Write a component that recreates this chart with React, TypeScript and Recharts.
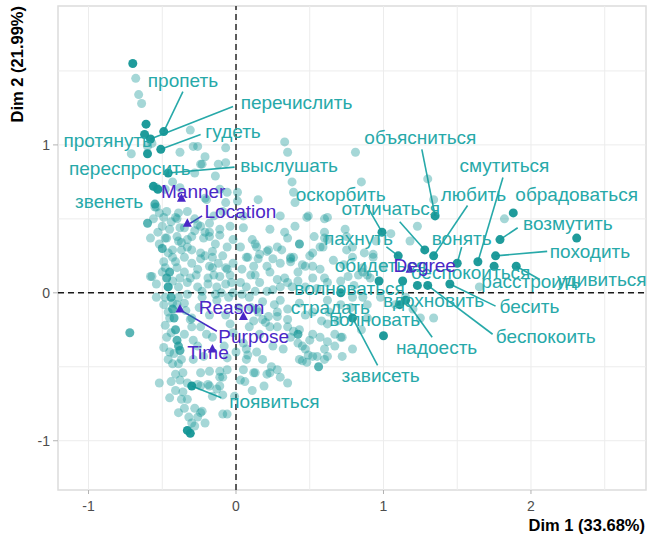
import {
  ScatterChart,
  Scatter,
  XAxis,
  YAxis,
  ReferenceLine,
  ReferenceArea,
} from "recharts";

// axis ranges and ticks
const X_RANGE: [number, number] = [-1.207, 2.78];
const Y_RANGE: [number, number] = [-1.333, 1.939];
const X_TICKS = [-1, 0, 1, 2];
const Y_TICKS = [-1, 0, 1];
const X_MINOR = [-0.5, 0.5, 1.5, 2.5];
const Y_MINOR = [-0.5, 0.5, 1.5];

const TEAL = "#139696";
const TEAL_TEXT = "#27a9a9";
const PURPLE = "#4a27c6";

// individuals with low contribution
const lightPoints: [number, number][] = [
  [-0.68, 1.45], [-0.66, 1.34], [-0.64, 1.28], [-0.71, 0.94], [-0.6, 0.99], [-0.57, 1.01],
  [-0.38, 0.95], [-0.29, 0.99], [-0.26, 0.99], [-0.31, 1.1], [-0.24, 0.87], [-0.12, 0.87],
  [0.33, 1.02], [0.35, 0.95], [0.38, 0.75], [0.39, 0.68], [-0.38, 0.71], [-0.43, 0.75],
  [-0.2, 0.63], [-0.06, 0.68], [0.01, 0.68], [-0.11, 0.7], [-0.55, 0.58], [-0.52, 0.54],
  [-0.56, 0.5], [-0.49, 0.51], [-0.41, 0.51], [-0.38, 0.44], [-0.24, 0.45], [-0.18, 0.41],
  [-0.11, 0.43], [-0.04, 0.45], [-0.58, 0.37], [-0.47, 0.37], [-0.37, 0.34], [-0.22, 0.37],
  [-0.43, 0.29], [-0.33, 0.31], [-0.24, 0.27], [-0.16, 0.28], [-0.06, 0.31], [0.03, 0.31],
  [0.07, 0.24], [0.14, 0.31], [0.21, 0.28], [0.28, 0.31], [0.37, 0.24], [0.5, 0.25],
  [0.57, 0.31], [0.6, 0.37], [0.62, 0.51], [0.49, 0.52], [-0.21, 0.92], [-0.07, 0.98],
  [-0.54, 0.71], [-0.48, 0.7], [-0.23, 0.87], [-0.07, 0.88], [-0.28, 0.81], [-0.14, 0.79],
  [-0.21, 0.64], [-0.07, 0.61], [0.01, 0.62], [-0.54, 0.58], [-0.39, 0.54], [-0.5, 0.45],
  [-0.4, 0.5], [-0.45, 0.43], [-0.35, 0.44], [-0.26, 0.46], [-0.18, 0.47], [-0.53, 0.41],
  [-0.4, 0.38], [-0.3, 0.38], [-0.21, 0.41], [-0.11, 0.39], [-0.48, 0.37], [-0.39, 0.35],
  [-0.33, 0.36], [-0.18, 0.38], [-0.37, 0.29], [-0.3, 0.29], [-0.43, 0.24], [-0.35, 0.24],
  [-0.24, 0.23], [-0.16, 0.24], [-0.09, 0.25], [-0.49, 0.21], [-0.48, 0.17], [-0.4, 0.17],
  [-0.26, 0.16], [-0.16, 0.17], [-0.07, 0.17], [-0.58, 0.11], [-0.38, 0.1], [-0.31, 0.1],
  [-0.19, 0.1], [-0.11, 0.11], [-0.04, 0.12], [-0.54, 0.06], [-0.46, 0.04], [-0.39, 0.04],
  [-0.26, 0.04], [-0.19, 0.06], [-0.13, 0.04], [-0.07, 0.06], [-0.03, 0.07], [-0.48, -0.03],
  [-0.39, -0.03], [-0.33, -0.01], [-0.23, -0.03], [-0.14, -0.01], [-0.05, -0.03], [0.04, -0.01],
  [0.09, -0.03], [-0.43, -0.07], [-0.35, -0.07], [-0.45, -0.17], [-0.3, -0.17], [-0.07, -0.15],
  [-0.04, -0.21], [-0.3, -0.23], [-0.57, 0.11], [-0.54, -0.03], [-0.37, -0.45], [-0.36, -0.54],
  [-0.33, -0.61], [-0.49, -0.37], [-0.43, -0.48], [-0.52, -0.61], [-0.45, -0.71], [-0.33, -0.72],
  [-0.39, -0.81], [-0.26, -0.84], [-0.23, -0.8], [-0.21, -0.88], [-0.28, -0.9], [-0.24, -0.63],
  [-0.18, -0.63], [-0.13, -0.65], [-0.16, -0.7], [-0.11, -0.57], [-0.06, -0.52], [-0.24, -0.54],
  [-0.29, -0.45], [-0.22, -0.43], [-0.29, -0.32], [-0.16, -0.3], [-0.02, -0.27], [0.05, -0.34],
  [0.07, -0.45], [0.12, -0.54], [0.03, -0.59], [-0.06, -0.82], [0.23, -0.54], [0.28, -0.52],
  [0.35, -0.61], [0.18, -0.45], [0.25, -0.36], [0.32, -0.38], [0.37, -0.3], [0.39, -0.26],
  [0.43, -0.25], [0.45, -0.36], [0.5, -0.32], [0.57, -0.3], [0.52, -0.43], [0.43, -0.45],
  [0.09, -0.23], [0.18, -0.18], [0.23, -0.23], [0.28, -0.16], [0.14, -0.11], [-0.24, -0.23],
  [-0.31, -0.18], [-0.13, -0.05], [-0.02, 0.0], [0.07, 0.04], [0.16, 0.07], [0.28, 0.09],
  [0.35, 0.07], [0.12, 0.18], [0.21, 0.18], [0.3, 0.2], [-0.18, 0.18], [-0.06, 0.16],
  [-0.45, -0.4], [-0.39, -0.48], [-0.38, -0.59], [-0.36, -0.67], [-0.24, -0.81], [-0.3, -0.88],
  [-0.18, -0.53], [-0.11, -0.53], [-0.09, -0.57], [-0.26, -0.62], [-0.19, -0.62], [-0.11, -0.63],
  [-0.09, -0.69], [-0.09, -0.82], [0.05, -0.52], [0.06, -0.6], [0.13, -0.54], [0.21, -0.55],
  [0.3, -0.57], [0.24, -0.5], [0.07, -0.38], [0.14, -0.4], [0.47, -0.38], [0.48, -0.47],
  [0.55, -0.43], [0.62, -0.43], [0.45, -0.46], [0.15, 0.23], [0.25, 0.23], [0.37, 0.23],
  [0.23, 0.14], [0.13, 0.12], [0.33, 0.1], [0.47, 0.18], [0.52, 0.18], [0.42, 0.08],
  [0.52, 0.1], [0.6, 0.1], [0.71, 0.08], [0.76, 0.11], [0.83, 0.12], [0.89, 0.12],
  [0.3, 0.04], [0.38, 0.04], [0.13, 0.01], [0.21, 0.01], [0.47, 0.04], [0.18, -0.06],
  [0.26, -0.08], [0.15, -0.13], [0.22, -0.16], [0.28, -0.13], [0.35, -0.11], [0.12, -0.19],
  [0.2, -0.2], [0.28, -0.23], [0.35, -0.23], [0.35, -0.18], [0.58, -0.19], [0.52, -0.28],
  [0.42, -0.34], [0.67, -0.28], [0.72, -0.3], [0.6, -0.38], [0.67, -0.36], [0.49, -0.42],
  [0.08, -0.42], [0.72, -0.43], [0.81, 0.95], [0.85, 0.75], [0.4, 0.61], [0.15, 0.63],
  [0.48, 0.51], [0.6, 0.5], [0.23, 0.43], [0.11, 0.36], [0.13, 0.33], [0.35, 0.37],
  [0.6, 0.41], [0.74, 0.43], [0.75, 0.38], [0.22, 0.29], [0.31, 0.29], [0.52, 0.27],
  [0.59, 0.31], [0.87, 0.27], [0.93, 0.26], [0.08, 0.24], [0.16, 0.26], [0.39, 0.24],
  [0.3, 0.52], [0.33, 0.41], [0.37, 0.21], [0.45, 0.19], [0.57, 0.16], [0.73, 0.19],
  [0.79, 0.24], [0.62, 0.36], [0.75, 0.29], [0.86, 0.17], [0.43, -0.07], [0.52, -0.13],
  [0.62, -0.05], [0.71, -0.08], [0.79, -0.03], [0.86, -0.03], [0.98, -0.03], [1.08, -0.08],
  [1.2, -0.11], [1.25, -0.17], [0.62, -0.33], [0.71, -0.3], [1.34, -0.17], [1.3, 0.77],
  [1.34, 0.63], [0.79, 0.31], [0.93, 0.24], [1.23, 0.45], [1.82, 0.5], [0.62, 0.07],
  [0.86, 0.14], [0.91, 0.1], [1.65, 0.04], [0.69, -0.19], [0.62, -0.21], [0.79, -0.38],
  [0.6, -0.45], [0.89, -0.08], [0.89, -0.17], [1.15, -0.03],
  [-0.47, 0.55], [-0.44, 0.48], [-0.52, 0.33], [-0.46, 0.27], [-0.41, 0.21], [-0.5, 0.14],
  [-0.43, 0.08], [-0.49, -0.08], [-0.46, -0.13], [-0.4, -0.08], [-0.48, -0.22], [-0.44, -0.27],
  [-0.47, -0.3], [-0.42, -0.41], [-0.46, -0.45], [-0.41, -0.55], [-0.44, -0.6], [-0.37, -0.72],
  [-0.41, -0.66], [-0.35, -0.78], [-0.32, -0.84], [-0.28, -0.78], [-0.33, 0.55], [-0.28, 0.5],
  [-0.15, 0.52], [-0.3, 0.2], [-0.21, 0.25], [-0.12, 0.2], [-0.02, 0.2], [-0.27, 0.12],
  [-0.15, 0.12], [-0.33, 0.07], [-0.23, 0.01], [-0.1, 0.0], [-0.35, 0.14], [-0.02, 0.36],
  [-0.14, 0.33], [-0.28, 0.42], [-0.09, 0.55], [0.05, 0.44], [0.05, 0.52], [0.1, 0.12],
  [0.04, 0.16], [0.03, 0.07], [-0.34, -0.12], [-0.25, -0.1], [-0.18, -0.15], [-0.2, -0.28],
  [-0.35, -0.28], [-0.26, -0.36], [-0.08, -0.36], [0.0, -0.4], [-0.06, -0.44], [0.16, -0.28],
  [0.1, -0.1], [0.02, -0.1], [0.19, -0.63], [0.11, -0.66], [-0.01, -0.7], [0.53, 0.38],
  [0.66, 0.22], [0.4, 0.45], [0.55, 0.03], [0.47, -0.15], [0.63, -0.13], [0.8, 0.05],
  [0.95, 0.35], [1.05, 0.4], [1.0, 0.18], [1.18, 0.35], [0.42, 0.14], [0.25, 0.02],
  [0.3, -0.05], [0.78, -0.1], [0.85, -0.25],
];

// individuals with medium contribution
const midPoints: [number, number][] = [
  [-0.6, 0.47], [-0.5, 0.3], [-0.47, 0.1], [-0.43, -0.11], [-0.41, -0.25], [-0.4, -0.32],
  [-0.38, -0.39], [0.43, 0.33], [0.56, -0.5], [0.42, -0.28], [-0.72, -0.27], [-0.46, 0.04],
  [-0.44, -0.03], [-0.42, -0.17], [-0.39, -0.36], [-0.45, 0.14], [-0.55, 0.6],
];

// individuals with high contribution
const darkPoints: [number, number][] = [
  [-0.7, 1.55], [-0.49, 1.09], [-0.61, 1.14], [-0.62, 1.07], [-0.58, 1.04], [-0.6, 0.94],
  [-0.51, 0.97], [-0.46, 0.81], [-0.56, 0.72], [-0.53, 0.7], [1.35, 0.52], [1.64, 0.21],
  [1.34, 0.25], [1.79, 0.36], [1.76, 0.25], [0.99, 0.41], [1.28, 0.29], [1.1, 0.25],
  [1.5, 0.2], [1.45, 0.06], [1.3, 0.05], [1.15, -0.05], [0.79, -0.17], [-0.3, -0.63],
  [1.9, 0.18], [1.88, 0.54], [2.31, 0.37], [1.75, 0.18], [1.23, 0.05], [1.13, 0.08],
  [0.97, 0.08], [0.71, 0.0], [1.11, -0.08], [1.0, -0.29], [-0.31, -0.95], [-0.33, -0.93],
];

// verb labels: name, label x, label y
const verbLabels: [string, number, number][] = [
  ["пропеть", -0.36, 1.43],
  ["перечислить", 0.41, 1.28],
  ["гудеть", -0.02, 1.08],
  ["выслушать", 0.36, 0.85],
  ["объясниться", 1.25, 1.04],
  ["смутиться", 1.82, 0.85],
  ["любить", 1.61, 0.66],
  ["возмутить", 2.25, 0.46],
  ["походить", 2.4, 0.27],
  ["оскорбить", 0.71, 0.66],
  ["отличаться", 1.05, 0.56],
  ["пахнуть", 0.83, 0.36],
  ["вонять", 1.53, 0.36],
  ["бесить", 1.99, -0.1],
  ["беспокоить", 2.1, -0.3],
  ["надоесть", 1.36, -0.38],
  ["зависеть", 0.98, -0.57],
  ["появиться", 0.26, -0.74],
  ["удивиться", 2.48, 0.08],
  ["протянуть", -0.87, 1.02],
  ["переспросить", -0.72, 0.83],
  ["звенеть", -0.86, 0.61],
  ["обрадоваться", 2.31, 0.66],
  ["обидеться", 0.98, 0.18],
  ["беспокоиться", 1.59, 0.13],
  ["расстроить", 2.0, 0.07],
  ["волноваться", 0.77, 0.02],
  ["страдать", 0.64, -0.11],
  ["волновать", 0.94, -0.19],
  ["вдохновить", 1.34, -0.06],
];

// leader segments: from label edge to its point
const verbLinks: [number, number, number, number][] = [
  [-0.36, 1.36, -0.49, 1.09],
  [-0.02, 1.26, -0.58, 1.04],
  [-0.24, 1.07, -0.51, 0.97],
  [-0.01, 0.85, -0.46, 0.81],
  [1.26, 0.97, 1.35, 0.52],
  [1.81, 0.78, 1.64, 0.21],
  [1.57, 0.59, 1.34, 0.25],
  [1.91, 0.44, 1.79, 0.36],
  [2.11, 0.28, 1.76, 0.25],
  [0.88, 0.6, 0.99, 0.41],
  [1.11, 0.48, 1.28, 0.29],
  [1.02, 0.31, 1.1, 0.25],
  [1.53, 0.31, 1.5, 0.2],
  [1.76, -0.09, 1.45, 0.06],
  [1.74, -0.28, 1.3, 0.05],
  [1.33, -0.3, 1.15, -0.05],
  [0.96, -0.49, 0.79, -0.17],
  [-0.1, -0.71, -0.3, -0.63],
  [2.06, 0.09, 1.9, 0.18],
];

// supplementary categories: name, point x, point y, label x, label y
const supCategories: [string, number, number, number, number][] = [
  ["Manner", -0.37, 0.64, -0.29, 0.68],
  ["Location", -0.33, 0.47, 0.03, 0.54],
  ["Reason", 0.05, -0.16, -0.03, -0.11],
  ["Purpose", -0.38, -0.11, 0.12, -0.3],
  ["Time", -0.16, -0.38, -0.19, -0.41],
  ["Degree", 1.18, 0.16, 1.28, 0.18],
];

const supLinks: [number, number, number, number][] = [
  [-0.23, 0.52, -0.31, 0.47],
  [-0.13, -0.26, -0.37, -0.12],
];

const toXY = (rows: [number, number][]) => rows.map(([x, y]) => ({ x, y }));

function dot(opacity: number) {
  return (p: any) => (
    <circle cx={p.cx} cy={p.cy} r={4.5} fill={TEAL} fillOpacity={opacity} />
  );
}

function word(color: string) {
  return (p: any) => (
    <text x={p.cx} y={p.cy} dy="0.28em" textAnchor="middle" fontSize={19} fill={color}>
      {p.payload.name}
    </text>
  );
}

const triangle = (p: any) => (
  <path
    d={`M${p.cx},${p.cy - 5}L${p.cx + 4.5},${p.cy + 3.5}L${p.cx - 4.5},${p.cy + 3.5}Z`}
    fill={PURPLE}
  />
);

export default function App() {
  const labelData = verbLabels.map(([name, x, y]) => ({ name, x, y }));
  const supPoints = supCategories.map(([name, x, y]) => ({ name, x, y }));
  const supText = supCategories.map(([name, , , x, y]) => ({ name, x, y }));

  return (
    <div
      style={{
        position: "absolute",
        left: 0,
        top: 0,
        fontFamily: "'Liberation Sans', Arial, sans-serif",
      }}
    >
      <ScatterChart
        width={649}
        height={537}
        margin={{ top: 6, right: 3, bottom: 17, left: 18 }}
      >
        <XAxis
          type="number"
          dataKey="x"
          domain={X_RANGE}
          ticks={X_TICKS}
          allowDataOverflow
          axisLine={false}
          tickSize={4}
          tickMargin={7}
          height={30}
          tickLine={{ stroke: "#b3b3b3" }}
          tick={{ fill: "#4d4d4d", fontSize: 14 }}
        />
        <YAxis
          type="number"
          dataKey="y"
          domain={Y_RANGE}
          ticks={Y_TICKS}
          allowDataOverflow
          axisLine={false}
          tickSize={5}
          tickMargin={3}
          width={40}
          tickLine={{ stroke: "#b3b3b3" }}
          tick={{ fill: "#4d4d4d", fontSize: 14 }}
        />

        {[...X_TICKS, ...X_MINOR].map((v) => (
          <ReferenceLine key={`gx${v}`} x={v} stroke="#ececec" strokeWidth={1} />
        ))}
        {[...Y_TICKS, ...Y_MINOR].map((v) => (
          <ReferenceLine key={`gy${v}`} y={v} stroke="#ececec" strokeWidth={1} />
        ))}
        <ReferenceArea
          x1={X_RANGE[0]}
          x2={X_RANGE[1]}
          y1={Y_RANGE[0]}
          y2={Y_RANGE[1]}
          fill="none"
          fillOpacity={0}
          stroke="#dcdcdc"
          strokeWidth={1.5}
        />

        <Scatter data={toXY(lightPoints)} shape={dot(0.38)} isAnimationActive={false} />
        <Scatter data={toXY(midPoints)} shape={dot(0.7)} isAnimationActive={false} />
        <Scatter data={toXY(darkPoints)} shape={dot(0.95)} isAnimationActive={false} />

        <ReferenceLine x={0} stroke="#1a1a1a" strokeWidth={1.4} strokeDasharray="6 4" />
        <ReferenceLine y={0} stroke="#1a1a1a" strokeWidth={1.4} strokeDasharray="6 4" />

        {verbLinks.map(([sx, sy, px, py], i) => (
          <ReferenceLine
            key={`vl${i}`}
            segment={[{ x: sx, y: sy }, { x: px, y: py }]}
            stroke={TEAL_TEXT}
            strokeWidth={1.6}
          />
        ))}
        {supLinks.map(([sx, sy, px, py], i) => (
          <ReferenceLine
            key={`sl${i}`}
            segment={[{ x: sx, y: sy }, { x: px, y: py }]}
            stroke={PURPLE}
            strokeWidth={1.6}
          />
        ))}

        <Scatter data={supPoints} shape={triangle} isAnimationActive={false} />
        <Scatter data={labelData} shape={word(TEAL_TEXT)} isAnimationActive={false} />
        <Scatter data={supText} shape={word(PURPLE)} isAnimationActive={false} />
      </ScatterChart>

      <svg
        width={649}
        height={537}
        style={{ position: "absolute", left: 0, top: 0, pointerEvents: "none" }}
      >
        <text
          x={645}
          y={531}
          textAnchor="end"
          fontSize={16.5}
          fontWeight="bold"
          fill="#000"
        >
          Dim 1 (33.68%)
        </text>
        <text
          x={23}
          y={6}
          transform="rotate(-90 23 6)"
          textAnchor="end"
          fontSize={16.5}
          fontWeight="bold"
          fill="#000"
        >
          Dim 2 (21.99%)
        </text>
      </svg>
    </div>
  );
}
